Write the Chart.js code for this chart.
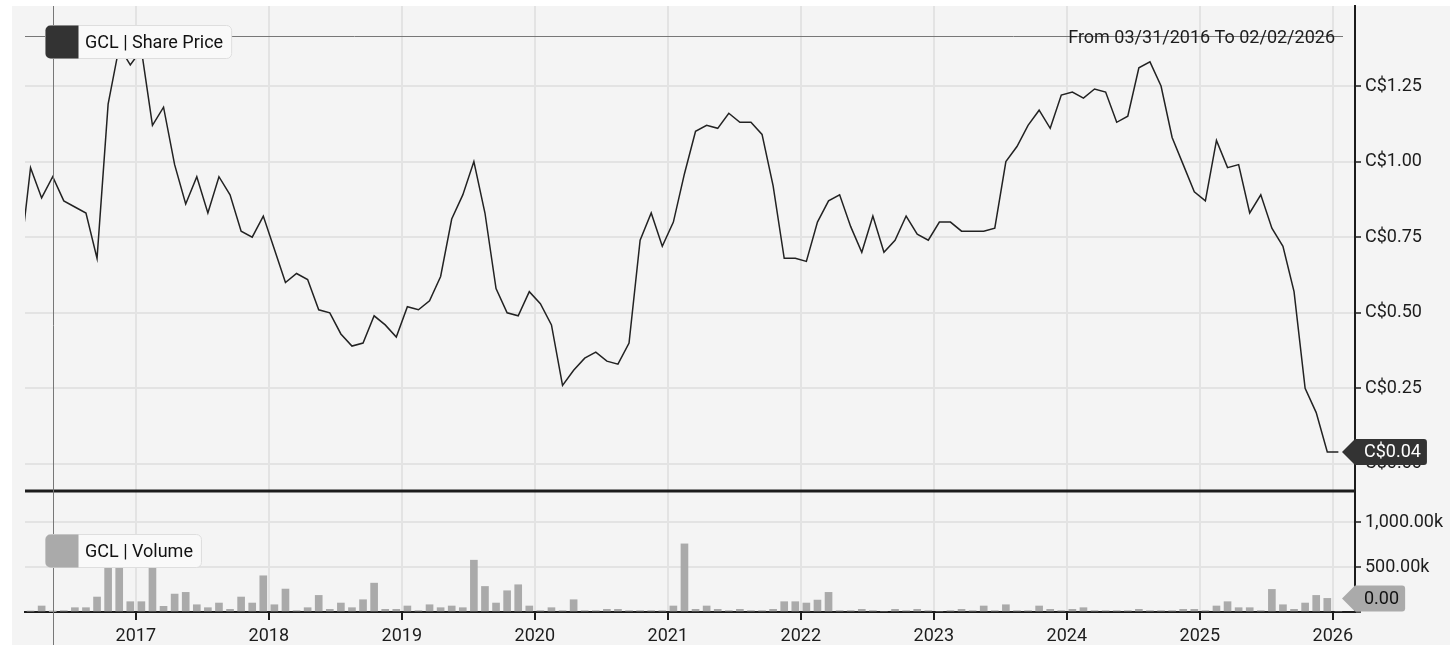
<!DOCTYPE html>
<html>
<head>
<meta charset="utf-8">
<script src="https://cdn.jsdelivr.net/npm/chart.js@4.4.1/dist/chart.umd.min.js"></script>
<style>
  body { margin: 0; background: #fff; }
  #panel { position: absolute; left: 12px; top: 6px; width: 1438px; height: 639px; background: #f4f4f4; }
  #chart { position: absolute; left: 0; top: 0; }
</style>
</head>
<body>
<div id="panel"></div>
<canvas id="chart" width="1456" height="658"></canvas>
<script>
// monthly closes, first month is Feb 2016 (mostly off the left edge)
const firstMonth = { year: 2016, month: 2 };
const sharePrice = [
  0.66,
  0.98, 0.88, 0.95, 0.87, 0.85, 0.83, 0.68, 1.19, 1.38, 1.32,   // 2016
  1.37, 1.12, 1.18, 0.99, 0.86, 0.95, 0.83, 0.95, 0.89, 0.77, 0.75, 0.82, // 2017
  0.71, 0.60, 0.63, 0.61, 0.51, 0.50, 0.43, 0.39, 0.40, 0.49, 0.46, 0.42, // 2018
  0.52, 0.51, 0.54, 0.62, 0.81, 0.89, 1.00, 0.83, 0.58, 0.50, 0.49, 0.57, // 2019
  0.53, 0.46, 0.26, 0.31, 0.35, 0.37, 0.34, 0.33, 0.40, 0.74, 0.83, 0.72, // 2020
  0.80, 0.96, 1.10, 1.12, 1.11, 1.16, 1.13, 1.13, 1.09, 0.92, 0.68, 0.68, // 2021
  0.67, 0.80, 0.87, 0.89, 0.785, 0.70, 0.82, 0.70, 0.74, 0.82, 0.76, 0.74, // 2022
  0.80, 0.80, 0.77, 0.77, 0.77, 0.78, 1.00, 1.05, 1.12, 1.17, 1.11, 1.22, // 2023
  1.23, 1.21, 1.24, 1.23, 1.13, 1.15, 1.31, 1.33, 1.25, 1.08, 0.99, 0.90, // 2024
  0.87, 1.07, 0.98, 0.99, 0.83, 0.89, 0.78, 0.72, 0.57, 0.25, 0.17, 0.04, // 2025
  0.04 // 2026
];
const volume = [
  0,
  10000, 67000, 5000, 15000, 48000, 48000, 167000, 620000, 700000, 115000, // 2016
  115000, 540000, 63000, 200000, 219000, 81000, 48000, 100000, 30000, 167000, 100000, 404000, // 2017
  81000, 256000, 15000, 48000, 185000, 30000, 100000, 48000, 137000, 322000, 30000, 30000, // 2018
  67000, 15000, 81000, 48000, 67000, 48000, 578000, 285000, 100000, 237000, 304000, 67000, // 2019
  15000, 48000, 15000, 137000, 15000, 15000, 30000, 30000, 15000, 15000, 15000, 15000, // 2020
  67000, 760000, 30000, 67000, 30000, 15000, 30000, 15000, 15000, 30000, 115000, 115000, // 2021
  100000, 133000, 219000, 15000, 15000, 30000, 15000, 0, 30000, 15000, 30000, 15000, // 2022
  0, 15000, 30000, 15000, 67000, 15000, 81000, 15000, 15000, 67000, 30000, 15000, // 2023
  30000, 48000, 15000, 15000, 15000, 15000, 30000, 15000, 15000, 15000, 30000, 30000, // 2024
  15000, 67000, 115000, 48000, 48000, 15000, 252000, 81000, 30000, 100000, 185000, 152000, // 2025
  0 // 2026
];
const yearTicks = [2017, 2018, 2019, 2020, 2021, 2022, 2023, 2024, 2025, 2026];
const priceTicks = [0, 0.25, 0.5, 0.75, 1, 1.25];
const volumeTicks = [0, 500000, 1000000];
const dateRange = "From 03/31/2016 To 02/02/2026";
const crosshair = { monthIndex: 3, price: 1.415 };

const ink = "#1c1c1c";
const gridColor = "#e3e3e3";
const fontFamily = "Roboto, 'Noto Sans', sans-serif";

// middle of each month as a decimal year
const monthPos = sharePrice.map((_, i) => firstMonth.year + (firstMonth.month - 1 + i) / 12 + 1 / 24);

Chart.defaults.font.family = fontFamily;
Chart.defaults.font.size = 18;
Chart.defaults.color = ink;

function fixWidth(s) { s.width = 101; s.paddingTop = 0; s.paddingBottom = 0; }

function tag(ctx, area, text, fill, color, yc) {
    ctx.font = "18px " + fontFamily;
    const textLeft = area.right + 9;
    const right = textLeft + ctx.measureText(text).width + 6;
    const h = 13;
    ctx.fillStyle = fill;
    ctx.beginPath();
    ctx.moveTo(area.right - 13, yc);
    ctx.lineTo(area.right, yc - h);
    ctx.lineTo(right - 3, yc - h);
    ctx.quadraticCurveTo(right, yc - h, right, yc - h + 3);
    ctx.lineTo(right, yc + h - 3);
    ctx.quadraticCurveTo(right, yc + h, right - 3, yc + h);
    ctx.lineTo(area.right, yc + h);
    ctx.closePath();
    ctx.fill();
    ctx.fillStyle = color;
    ctx.textAlign = "left";
    ctx.textBaseline = "middle";
    ctx.fillText(text, textLeft, yc + 1);
}

function legendBox(ctx, label, swatch, left, top) {
    ctx.font = "18px " + fontFamily;
    const w = 40 + ctx.measureText(label).width + 8;
    const h = 33;
    ctx.fillStyle = "#f9f9f9";
    ctx.strokeStyle = "#dedede";
    ctx.lineWidth = 1;
    ctx.beginPath();
    ctx.roundRect(left + 0.5, top + 0.5, w, h, 5);
    ctx.fill();
    ctx.stroke();
    ctx.fillStyle = swatch;
    ctx.beginPath();
    ctx.roundRect(left + 0.5, top + 0.5, 33, h, [5, 0, 0, 5]);
    ctx.fill();
    ctx.fillStyle = "#111";
    ctx.textAlign = "left";
    ctx.textBaseline = "middle";
    ctx.fillText(label, left + 40, top + h / 2 + 2);
}

const overlay = {
    id: "overlay",
    afterDraw(chart) {
        const { ctx, chartArea: area, scales } = chart;
        const { x, y, yVol } = scales;
        ctx.save();

        // separator between price and volume panes
        ctx.strokeStyle = ink;
        ctx.lineWidth = 3;
        ctx.beginPath();
        ctx.moveTo(area.left, yVol.top);
        ctx.lineTo(area.right, yVol.top);
        ctx.stroke();

        // crosshair
        const cx = Math.round(x.getPixelForValue(monthPos[crosshair.monthIndex])) + 0.5;
        const cy = Math.round(y.getPixelForValue(crosshair.price)) + 0.5;
        ctx.strokeStyle = "#777";
        ctx.lineWidth = 1;
        ctx.beginPath();
        ctx.moveTo(cx, area.top);
        ctx.lineTo(cx, 645);
        ctx.moveTo(area.left, cy);
        ctx.lineTo(area.right - 12, cy);
        ctx.stroke();

        ctx.font = "18px " + fontFamily;
        ctx.fillStyle = ink;
        ctx.textAlign = "right";
        ctx.textBaseline = "middle";
        ctx.fillText(dateRange, area.right - 20, area.top + 32);

        legendBox(ctx, "GCL | Share Price", "#333333", area.left + 20, area.top + 19);
        legendBox(ctx, "GCL | Volume", "#aaaaaa", area.left + 20, yVol.top + 43);

        const lastPrice = sharePrice[sharePrice.length - 1];
        const lastVolume = volume[volume.length - 1];
        tag(ctx, area, "C$" + lastPrice.toFixed(2), "#333333", "#fff", y.getPixelForValue(lastPrice));
        tag(ctx, area, lastVolume.toFixed(2), "#aaaaaa", "#111",
            Math.min(yVol.getPixelForValue(lastVolume), yVol.bottom - 13.5));
        ctx.restore();
    }
};

new Chart(document.getElementById("chart"), {
    type: "line",
    data: {
        datasets: [
            {
                type: "line",
                label: "GCL | Share Price",
                data: sharePrice.map((v, i) => ({ x: monthPos[i], y: v })),
                yAxisID: "y",
                borderColor: "#222",
                borderWidth: 1.5,
                pointRadius: 0,
                tension: 0,
            },
            {
                type: "bar",
                label: "GCL | Volume",
                data: volume.map((v, i) => ({ x: monthPos[i], y: v })),
                yAxisID: "yVol",
                backgroundColor: "#aaaaaa",
                barThickness: 7,
            },
        ],
    },
    options: {
        responsive: false,
        animation: false,
        events: [],
        layout: { padding: { left: 25, top: 6, right: 0, bottom: 0 } },
        plugins: { legend: { display: false }, tooltip: { enabled: false } },
        scales: {
            x: {
                type: "linear",
                offset: false,
                min: 2016 + 2 / 12,
                max: 2026 + 2 / 12,
                afterBuildTicks: (s) => { s.ticks = yearTicks.map((v) => ({ value: v })); },
                afterFit: (s) => { s.height = 46; s.paddingLeft = 0; s.paddingRight = 0; },
                ticks: { callback: (v) => String(v), padding: 6, maxRotation: 0, autoSkip: false },
                grid: { offset: false, color: gridColor, lineWidth: 2, tickColor: ink, tickLength: 8, tickWidth: 2 },
                border: { color: ink, width: 2 },
            },
            y: {
                position: "right",
                stack: "panes",
                stackWeight: 485,
                min: -0.0893,
                max: 1.5146,
                afterBuildTicks: (s) => { s.ticks = priceTicks.map((v) => ({ value: v })); },
                afterFit: fixWidth,
                ticks: { callback: (v) => "C$" + v.toFixed(2), padding: 4 },
                grid: { color: gridColor, lineWidth: 2, tickColor: ink, tickLength: 6, tickWidth: 1.5 },
                border: { color: ink, width: 2 },
            },
            yVol: {
                position: "right",
                stack: "panes",
                stackWeight: 121,
                min: 0,
                max: 1350000,
                afterBuildTicks: (s) => { s.ticks = volumeTicks.map((v) => ({ value: v })); },
                afterFit: fixWidth,
                ticks: {
                    callback: (v) => v === 0 ? "" :
                        (v / 1000).toLocaleString("en-US", { minimumFractionDigits: 2, maximumFractionDigits: 2 }) + "k",
                    padding: 4,
                },
                grid: { color: gridColor, lineWidth: 2, tickColor: ink, tickLength: 6, tickWidth: 1.5 },
                border: { color: ink, width: 2 },
            },
        },
    },
    plugins: [overlay],
});
</script>
</body>
</html>
